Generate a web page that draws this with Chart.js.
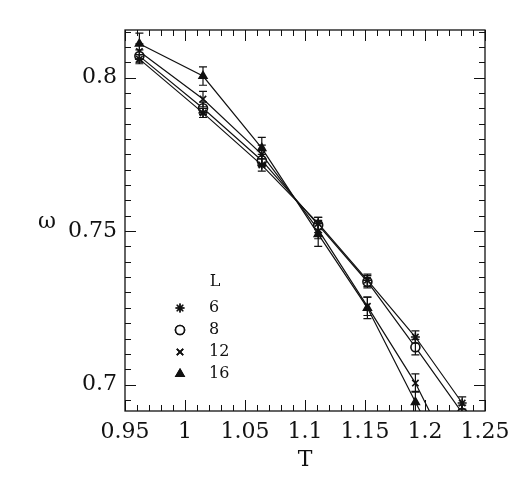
<!DOCTYPE html>
<html>
<head>
<meta charset="utf-8">
<script src="https://cdn.jsdelivr.net/npm/chart.js@4"></script>
<style>
  body { margin: 0; background: #fff; }
  #wrap { width: 525px; height: 479px; }
</style>
</head>
<body>
<div id="wrap"><canvas id="chart" width="525" height="479"></canvas></div>
<script>
// temperatures and cumulant values per system size
var temps = [0.962, 1.015, 1.064, 1.111, 1.152, 1.192, 1.231];
var sizes = ['6', '8', '12', '16'];
var omegaL6 = [0.8060, 0.7885, 0.7715, 0.7525, 0.7340, 0.7155, 0.6940];
var omegaL8 = [0.8070, 0.7900, 0.7730, 0.7520, 0.7335, 0.7122, 0.6908];
var omegaL12 = [0.8085, 0.7930, 0.7750, 0.7505, 0.7255, 0.7005, 0.6700];
var omegaL16 = [0.8110, 0.8005, 0.7770, 0.7490, 0.7250, 0.6943, 0.6650];
var errL6 = [0.0015, 0.0015, 0.0020, 0.0020, 0.0020, 0.0020, 0.0020];
var errL8 = [0.0020, 0.0020, 0.0020, 0.0025, 0.0020, 0.0025, 0.0025];
var errL12 = [0.0025, 0.0025, 0.0030, 0.0030, 0.0030, 0.0030, 0.0030];
var errL16 = [0.0035, 0.0030, 0.0035, 0.0040, 0.0035, 0.0035, 0.0035];
var xTicks = [0.95, 1, 1.05, 1.1, 1.15, 1.2, 1.25];
var yTicks = [0.7, 0.75, 0.8];
var xTitle = 'T';
var yTitle = 'ω';
var legendTitle = 'L';

var INK = '#111';
var tickFont = { family: 'DejaVu Serif', size: 22 };

function points(vals) {
    var pts = [];
    for (var i = 0; i < temps.length; i++) {
        pts.push({ x: temps[i], y: vals[i] });
    }
    return pts;
}

function fmt(v) {
    return String(Number(v.toFixed(3)));
}

var styles = ['star', 'circle', 'crossRot', 'triangle'];
var fills = ['#fff', '#fff', '#fff', INK];
var series = [omegaL6, omegaL8, omegaL12, omegaL16];
var errors = [errL6, errL8, errL12, errL16];

var datasets = [];
for (var s = 0; s < sizes.length; s++) {
    datasets.push({
        label: sizes[s],
        data: points(series[s]),
        errors: errors[s],
        borderColor: INK,
        borderWidth: 1.2,
        backgroundColor: fills[s],
        pointStyle: styles[s],
        pointRadius: 4.5,
        pointBorderWidth: 1.6,
        pointBorderColor: INK,
        pointBackgroundColor: fills[s],
        tension: 0,
        fill: false
    });
}

// error bars drawn through the scales
var errorBars = {
    id: 'errorBars',
    afterDatasetsDraw: function (chart) {
        var ctx = chart.ctx;
        var yScale = chart.scales.y;
        var area = chart.chartArea;
        ctx.save();
        ctx.beginPath();
        ctx.rect(area.left, area.top, area.right - area.left, area.bottom - area.top);
        ctx.clip();
        ctx.strokeStyle = INK;
        ctx.lineWidth = 1.2;
        chart.data.datasets.forEach(function (ds, di) {
            var meta = chart.getDatasetMeta(di);
            meta.data.forEach(function (pt, i) {
                var v = ds.data[i].y;
                var e = ds.errors[i];
                var yTop = yScale.getPixelForValue(v + e);
                var yBot = yScale.getPixelForValue(v - e);
                ctx.beginPath();
                ctx.moveTo(pt.x, yTop);
                ctx.lineTo(pt.x, yBot);
                ctx.moveTo(pt.x - 4, yTop);
                ctx.lineTo(pt.x + 4, yTop);
                ctx.moveTo(pt.x - 4, yBot);
                ctx.lineTo(pt.x + 4, yBot);
                ctx.stroke();
            });
        });
        ctx.restore();
    }
};

// frame with inward ticks on all four sides, omega label and legend
var frame = {
    id: 'frame',
    afterDraw: function (chart) {
        var ctx = chart.ctx;
        var a = chart.chartArea;
        var xs = chart.scales.x;
        var ys = chart.scales.y;
        ctx.save();
        ctx.strokeStyle = INK;
        ctx.lineWidth = 1.3;
        ctx.strokeRect(a.left, a.top, a.right - a.left, a.bottom - a.top);

        ctx.lineWidth = 1;
        ctx.beginPath();
        var v, px, major, len;
        for (var k = 0; k <= 40; k++) {
            v = 0.95 + k * 0.01;
            if (v > xs.max + 1e-9) break;
            px = Math.round(xs.getPixelForValue(v)) + 0.5;
            major = k % 5 === 0;
            len = major ? 11 : 6;
            ctx.moveTo(px, a.bottom);
            ctx.lineTo(px, a.bottom - len);
            ctx.moveTo(px, a.top);
            ctx.lineTo(px, a.top + len);
        }
        for (var j = 0; j <= 40; j++) {
            v = 0.69 + j * 0.005;
            if (v < ys.min - 1e-9) continue;
            if (v > ys.max + 1e-9) break;
            px = Math.round(ys.getPixelForValue(v)) + 0.5;
            major = j % 10 === 2;
            len = major ? 11 : 6;
            ctx.moveTo(a.left, px);
            ctx.lineTo(a.left + len, px);
            ctx.moveTo(a.right, px);
            ctx.lineTo(a.right - len, px);
        }
        ctx.stroke();

        // y title
        ctx.fillStyle = INK;
        ctx.font = '22px "DejaVu Serif"';
        ctx.textAlign = 'center';
        ctx.textBaseline = 'middle';
        ctx.fillText(yTitle, 47, ys.getPixelForValue(0.753));

        // legend
        var lx = a.left + 55;
        var tx = a.left + 88;
        var ly = a.top + 252;
        ctx.font = '16px "DejaVu Serif"';
        ctx.textAlign = 'center';
        ctx.fillText(legendTitle, tx + 2, ly);
        ctx.textAlign = 'left';
        chart.data.datasets.forEach(function (ds, i) {
            var y = ly + 26 + i * 22;
            ctx.fillStyle = INK;
            ctx.fillText(ds.label, tx - 4, y);
            Chart.helpers.drawPoint(ctx, {
                pointStyle: ds.pointStyle,
                radius: 4.5,
                borderWidth: 1.6,
                rotation: 0
            }, lx, y);
            ctx.fillStyle = ds.pointBackgroundColor;
            ctx.strokeStyle = INK;
            ctx.lineWidth = 1.6;
            ctx.fill();
            ctx.stroke();
        });
        ctx.restore();
    }
};

new Chart(document.getElementById('chart'), {
    type: 'line',
    data: { datasets: datasets },
    options: {
        responsive: false,
        animation: false,
        layout: { padding: { top: 30, right: 40, left: 0, bottom: 0 } },
        plugins: {
            legend: { display: false },
            tooltip: { enabled: false }
        },
        scales: {
            x: {
                type: 'linear',
                min: 0.95,
                max: 1.25,
                afterBuildTicks: function (scale) {
                    scale.ticks = xTicks.map(function (t) { return { value: t }; });
                },
                afterFit: function (scale) { scale.height = 68; },
                grid: { display: false, drawTicks: false },
                border: { display: false },
                ticks: {
                    color: INK,
                    font: tickFont,
                    padding: 8,
                    maxRotation: 0,
                    autoSkip: false,
                    callback: function (v) { return fmt(v); }
                },
                title: {
                    display: true,
                    text: xTitle,
                    color: INK,
                    font: tickFont,
                    padding: { top: 0, bottom: 6 }
                }
            },
            y: {
                type: 'linear',
                min: 0.6914,
                max: 0.8155,
                afterBuildTicks: function (scale) {
                    scale.ticks = yTicks.map(function (t) { return { value: t }; });
                },
                afterFit: function (scale) { scale.width = 125; },
                grid: { display: false, drawTicks: false },
                border: { display: false },
                ticks: {
                    color: INK,
                    font: tickFont,
                    padding: 8,
                    autoSkip: false,
                    callback: function (v) { return fmt(v); }
                }
            }
        }
    },
    plugins: [errorBars, frame]
});
</script>
</body>
</html>
